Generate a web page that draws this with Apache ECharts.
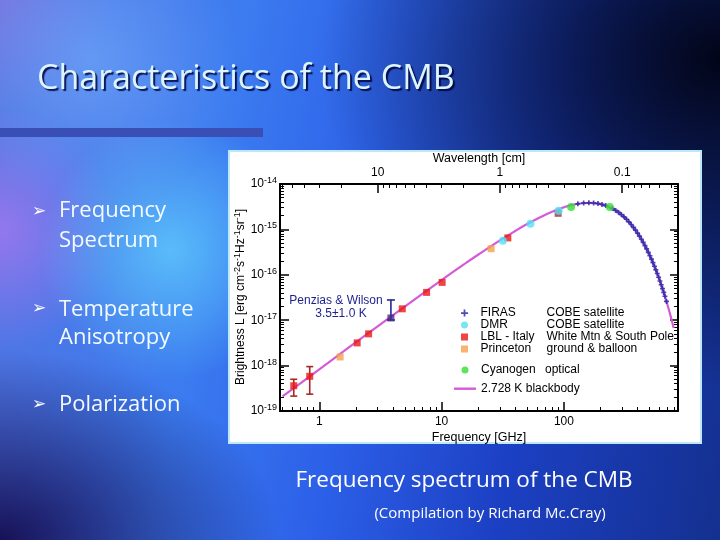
<!DOCTYPE html>
<html><head><meta charset="utf-8">
<script src="https://cdn.jsdelivr.net/npm/echarts@6/dist/echarts.min.js"></script>
<style>
html,body{margin:0;padding:0;}
body{width:720px;height:540px;overflow:hidden;position:relative;
background:
 radial-gradient(circle at 170px 250px, rgba(100,215,255,0.70) 0px, rgba(100,215,255,0) 130px),
 radial-gradient(circle at 90px 60px, rgba(120,180,255,0.55) 0, rgba(120,180,255,0) 150px),
 radial-gradient(circle at 0px 230px, rgba(170,120,240,0.75) 0, rgba(170,120,240,0) 120px),
 radial-gradient(circle at 0px 0px, rgba(140,110,220,0.6) 0, rgba(140,110,220,0) 110px),
 radial-gradient(ellipse 280px 190px at 0px 540px, rgba(20,12,80,0.95) 0, rgba(20,12,80,0) 100%),
 radial-gradient(ellipse 400px 330px at 720px 60px, rgba(2,5,25,1) 0, rgba(2,5,25,0) 100%),
 linear-gradient(100deg, #5574e0 0%, #3c7cf0 30%, #2c60e8 50%, #1c40c4 72%, #14308f 100%);}
#box{position:absolute;left:228px;top:150px;width:470px;height:290px;background:#fff;border:2px solid #bde8fa;}
#chart{position:absolute;left:0;top:0;width:720px;height:540px;}
</style></head><body><div id="box"></div><div id="chart"></div>
<script>
// ---------- data ----------
const curveFreq = [0.5, 0.7, 1, 1.5, 2, 3, 5, 7, 10, 15, 20, 30, 40, 50, 60, 80, 100, 120, 140, 160, 180, 200, 250, 300, 350, 400, 450, 500, 550, 600, 650, 700, 750, 790];
const curveL = [2.09e-19, 4.08e-19, 8.30e-19, 1.86e-18, 3.29e-18, 7.34e-18, 2.00e-17, 3.86e-17, 7.66e-17, 1.65e-16, 2.80e-16, 5.72e-16, 9.24e-16, 1.31e-15, 1.70e-15, 2.45e-15, 3.07e-15, 3.51e-15, 3.77e-15, 3.85e-15, 3.78e-15, 3.60e-15, 2.87e-15, 2.04e-15, 1.34e-15, 8.29e-16, 4.90e-16, 2.79e-16, 1.54e-16, 8.30e-17, 4.38e-17, 2.27e-17, 1.16e-17, 6.7e-18];

const firasFreq = [130, 145, 160, 175, 190, 205, 220, 250, 265, 280, 295, 310, 325, 340, 355, 370, 385, 400, 415, 430, 445, 460, 475, 490, 505, 520, 535, 550, 565, 580, 595, 610, 625, 640, 655, 670, 690];
const firasL = [3.66e-15, 3.80e-15, 3.85e-15, 3.81e-15, 3.71e-15, 3.55e-15, 3.34e-15, 2.87e-15, 2.62e-15, 2.37e-15, 2.12e-15, 1.89e-15, 1.67e-15, 1.47e-15, 1.28e-15, 1.11e-15, 9.64e-16, 8.30e-16, 7.12e-16, 6.08e-16, 5.18e-16, 4.39e-16, 3.71e-16, 3.13e-16, 2.63e-16, 2.21e-16, 1.85e-16, 1.54e-16, 1.28e-16, 1.07e-16, 8.83e-17, 7.31e-17, 6.04e-17, 4.98e-17, 4.10e-17, 3.37e-17, 2.59e-17];

const dmrFreq = [31.7, 53.3, 90.6];
const dmrL = [5.6e-16, 1.34e-15, 2.59e-15];

const lblFreq = [0.618, 0.835, 2.04, 2.53, 4.77, 7.54, 10.1, 34.8];
const lblL = [3.6e-19, 5.8e-19, 3.16e-18, 5.0e-18, 1.78e-17, 4.1e-17, 6.8e-17, 6.5e-16];
const lbl90Freq = [89.7];
const lbl90L = [2.26e-15];
const lblErrFreq = [0.618, 0.835];
const lblErrLow = [2.13e-19, 2.35e-19];
const lblErrHigh = [5.0e-19, 9.5e-19];

const princetonFreq = [1.48, 25.4];
const princetonL = [1.55e-18, 3.76e-16];

const cyanogenFreq = [114.5, 237];
const cyanogenL = [3.1e-15, 3.1e-15];

const pwFreq = [3.85];
const pwL = [1.12e-17];
const pwLow = [1.01e-17];
const pwHigh = [2.79e-17];

const freqMajor = [1, 10, 100];
const freqMinor = [0.5, 0.6, 0.7, 0.8, 0.9, 2, 3, 4, 5, 6, 7, 8, 9, 20, 30, 40, 50, 60, 70, 80, 90, 200, 300, 400, 500, 600, 700, 800];
const wlMajor = [10, 1, 0.1];
const wlLabels = ['10', '1', '0.1'];
const wlMinor = [60, 50, 40, 30, 20, 9, 8, 7, 6, 5, 4, 3, 2, 0.9, 0.8, 0.7, 0.6, 0.5, 0.4, 0.3, 0.2, 0.09, 0.08, 0.07, 0.06, 0.05, 0.04];
const yExponents = [-19, -18, -17, -16, -15, -14];

const legendNames1 = ['FIRAS', 'DMR', 'LBL - Italy', 'Princeton'];
const legendDesc1 = ['COBE satellite', 'COBE satellite', 'White Mtn & South Pole', 'ground & balloon'];
const legendNames2 = ['Cyanogen', '2.728 K blackbody'];
const legendDesc2 = ['optical', ''];

// ---------- helpers ----------
const C_CM_GHZ = 29.9792458;
const X_MIN = 0.477, X_MAX = 857, Y_MIN = 1e-19, Y_MAX = 1e-14;
const zip = (a, b) => a.map((v, i) => [v, b[i]]);
const yMajor = yExponents.map(e => Math.pow(10, e));
const yMinor = [];
for (let e = -19; e < -14; e++) for (let k = 2; k <= 9; k++) yMinor.push(k * Math.pow(10, e));
const FF = 'Liberation Sans, Arial, sans-serif';
const SF = 'Open Sans, sans-serif';
const PLUS = 'path://M2 0H4V2H6V4H4V6H2V4H0V2H2Z';
const SQUARE = 'path://M0 0H1V1H0Z';

const xBase = {type: 'log', min: X_MIN, max: X_MAX, splitLine: {show: false}, axisPointer: {show: false}};
const yBase = {type: 'log', min: Y_MIN, max: Y_MAX, splitLine: {show: false}};
const black = {color: '#000', width: 2};

function errRender(color, w) {
  return function (params, api) {
    const x = api.value(0);
    const a = api.coord([x, api.value(1)]);
    const b = api.coord([x, api.value(2)]);
    const st = {stroke: color, lineWidth: 1.6};
    return {type: 'group', children: [
      {type: 'line', shape: {x1: a[0], y1: a[1], x2: b[0], y2: b[1]}, style: st},
      {type: 'line', shape: {x1: a[0] - w, y1: a[1], x2: a[0] + w, y2: a[1]}, style: st},
      {type: 'line', shape: {x1: b[0] - w, y1: b[1], x2: b[0] + w, y2: b[1]}, style: st}
    ]};
  };
}

function legendFmt(names, descs) {
  return n => {
    const i = names.indexOf(n);
    return descs[i] ? '{a|' + n + '}{b|' + descs[i] + '}' : '{a|' + n + '}';
  };
}

const chart = echarts.init(document.getElementById('chart'), null, {renderer: 'canvas'});
const supRich = {b: {fontSize: 12, lineHeight: 16, fontFamily: FF, color: '#000'}, s: {fontSize: 9, lineHeight: 9, verticalAlign: 'top', fontFamily: FF, color: '#000'}};
const legendIcons1 = {'FIRAS': 'path://M0 1.5H1.5V0H2.5V1.5H4V2.5H2.5V4H1.5V2.5H0Z', 'DMR': 'circle', 'LBL - Italy': SQUARE, 'Princeton': SQUARE};
const slideText = (txt, x, y, size, extra) => ({type: 'text', x: x, y: y, style: Object.assign({text: txt, fontSize: size, fontFamily: SF, fill: '#f4fbff',
  verticalAlign: 'middle', textVerticalAlign: 'middle', textShadowColor: 'rgba(0,0,60,0.5)', textShadowOffsetX: 1, textShadowOffsetY: 1}, extra || {})});

const option = {
  backgroundColor: 'transparent',
  animation: false,
  grid: {left: 280, right: 42, top: 184, bottom: 129, containLabel: false},
  xAxis: [
    Object.assign({}, xBase, {position: 'bottom',
      axisLine: {lineStyle: black},
      axisTick: {inside: true, length: 9, customValues: freqMajor, lineStyle: {color: '#000', width: 1.5}},
      axisLabel: {customValues: freqMajor, formatter: v => String(Math.round(v)), color: '#000', fontSize: 12, fontFamily: FF, margin: 5},
      name: 'Frequency [GHz]', nameLocation: 'middle', nameGap: 20,
      nameTextStyle: {color: '#000', fontSize: 12.5, fontFamily: FF}}),
    Object.assign({}, xBase, {position: 'bottom', axisLine: {show: false},
      axisTick: {inside: true, length: 4, customValues: freqMinor, lineStyle: {color: '#000', width: 1}},
      axisLabel: {show: false}}),
    Object.assign({}, xBase, {position: 'top',
      axisLine: {lineStyle: black},
      axisTick: {inside: true, length: 9, customValues: wlMajor.map(l => C_CM_GHZ / l), lineStyle: {color: '#000', width: 1.5}},
      axisLabel: {customValues: wlMajor.map(l => C_CM_GHZ / l), color: '#000', fontSize: 12, fontFamily: FF, margin: 5,
        formatter: v => { const l = C_CM_GHZ / v; const i = wlMajor.findIndex(w => Math.abs(w - l) / w < 1e-3); return i >= 0 ? wlLabels[i] : ''; }},
      name: 'Wavelength [cm]', nameLocation: 'middle', nameGap: 19,
      nameTextStyle: {color: '#000', fontSize: 12.5, fontFamily: FF}}),
    Object.assign({}, xBase, {position: 'top', axisLine: {show: false},
      axisTick: {inside: true, length: 4, customValues: wlMinor.map(l => C_CM_GHZ / l), lineStyle: {color: '#000', width: 1}},
      axisLabel: {show: false}})
  ],
  yAxis: [
    Object.assign({}, yBase, {position: 'left',
      axisLine: {lineStyle: black},
      axisTick: {inside: true, length: 9, customValues: yMajor, lineStyle: {color: '#000', width: 1.5}},
      axisLabel: {customValues: yMajor, margin: 3, formatter: v => '{b|10}{s|' + Math.round(Math.log10(v)) + '}', rich: supRich}}),
    Object.assign({}, yBase, {position: 'left', axisLine: {show: false},
      axisTick: {inside: true, length: 4, customValues: yMinor, lineStyle: {color: '#000', width: 1}},
      axisLabel: {show: false}}),
    Object.assign({}, yBase, {position: 'right',
      axisLine: {lineStyle: black},
      axisTick: {inside: true, length: 8, customValues: yMajor, lineStyle: {color: '#000', width: 1.5}},
      axisLabel: {show: false}}),
    Object.assign({}, yBase, {position: 'right', axisLine: {show: false},
      axisTick: {inside: true, length: 4, customValues: yMinor, lineStyle: {color: '#000', width: 1}},
      axisLabel: {show: false}})
  ],
  legend: [
    {data: legendNames1.map(n => ({name: n, icon: legendIcons1[n]})), orient: 'vertical', left: 456, top: 302, itemWidth: 22, itemHeight: 7, itemGap: 0,
      selectedMode: false, formatter: legendFmt(legendNames1, legendDesc1),
      textStyle: {color: '#000', fontSize: 12, fontFamily: FF, lineHeight: 11.5,
        rich: {a: {width: 66, fontSize: 12, fontFamily: FF, color: '#000', lineHeight: 11.5}, b: {fontSize: 12, fontFamily: FF, color: '#000', lineHeight: 11.5}}}},
    {data: [{name: legendNames2[0], icon: 'circle'}, {name: legendNames2[1], icon: 'path://M0 0H22V2.4H0Z'}],
      orient: 'vertical', left: 449, top: 359, itemWidth: 22, itemHeight: 7, itemGap: 6.7,
      selectedMode: false, formatter: legendFmt(legendNames2, legendDesc2),
      textStyle: {color: '#000', fontSize: 12, fontFamily: FF, lineHeight: 12,
        rich: {a: {width: 64, fontSize: 12, fontFamily: FF, color: '#000', lineHeight: 12}, b: {fontSize: 12, fontFamily: FF, color: '#000', lineHeight: 12}}}}
  ],
  series: [
    {name: '2.728 K blackbody', type: 'line', data: zip(curveFreq, curveL), smooth: true, showSymbol: false, symbol: 'none',
      color: '#d45ad8', lineStyle: {color: '#d45ad8', width: 2.2}, itemStyle: {color: '#d45ad8'}, z: 2},
    {name: 'LBL err', type: 'custom', renderItem: errRender('#a52828', 3.5), data: lblErrFreq.map((f, i) => [f, lblErrLow[i], lblErrHigh[i]]), encode: {x: 0, y: [1, 2]}, z: 3},
    {name: 'PW err', type: 'custom', renderItem: errRender('#25259a', 4), data: pwFreq.map((f, i) => [f, pwLow[i], pwHigh[i]]), encode: {x: 0, y: [1, 2]}, z: 3},
    {name: 'FIRAS', type: 'scatter', data: zip(firasFreq, firasL), symbol: PLUS, symbolSize: 5, itemStyle: {color: '#1f1fa0'}, z: 4},
    {name: 'DMR', type: 'scatter', data: zip(dmrFreq, dmrL), symbol: 'circle', symbolSize: 8, itemStyle: {color: '#55e0f2'}, z: 5},
    {name: 'LBL - Italy', type: 'scatter', data: zip(lblFreq, lblL), symbol: 'rect', symbolSize: 7, itemStyle: {color: '#e81818'}, z: 4},
    {name: 'LBL 90', type: 'scatter', data: zip(lbl90Freq, lbl90L), symbol: 'rect', symbolSize: 7, itemStyle: {color: '#9e3434'}, z: 4},
    {name: 'Princeton', type: 'scatter', data: zip(princetonFreq, princetonL), symbol: 'rect', symbolSize: 7, itemStyle: {color: '#f5a04c'}, z: 4},
    {name: 'Cyanogen', type: 'scatter', data: zip(cyanogenFreq, cyanogenL), symbol: 'circle', symbolSize: 8, itemStyle: {color: '#35dd35'}, z: 5},
    {name: 'Penzias & Wilson', type: 'scatter', data: zip(pwFreq, pwL), symbol: 'rect', symbolSize: 7, itemStyle: {color: '#4a2a88'}, z: 4}
  ],
  graphic: [
    {type: 'text', x: 37, y: 79, style: {text: 'Characteristics of the CMB', fontSize: 34, fontFamily: SF, fill: '#dcf5ff',
      verticalAlign: 'middle', textVerticalAlign: 'middle', textShadowColor: 'rgba(0,0,60,0.85)', textShadowOffsetX: 2, textShadowOffsetY: 2, textShadowBlur: 1}},
    {type: 'rect', shape: {x: 0, y: 128, width: 263, height: 9}, style: {fill: '#3a4fb6'}},
    {type: 'text', x: 32, y: 212, style: {text: '\u27A2', fontSize: 17, fontFamily: 'DejaVu Sans', fill: '#ffffff', verticalAlign: 'middle', textVerticalAlign: 'middle'}},
    {type: 'text', x: 32, y: 309, style: {text: '\u27A2', fontSize: 17, fontFamily: 'DejaVu Sans', fill: '#ffffff', verticalAlign: 'middle', textVerticalAlign: 'middle'}},
    {type: 'text', x: 32, y: 405, style: {text: '\u27A2', fontSize: 17, fontFamily: 'DejaVu Sans', fill: '#ffffff', verticalAlign: 'middle', textVerticalAlign: 'middle'}},
    slideText('Frequency', 59, 211, 22),
    slideText('Spectrum', 59, 241, 22),
    slideText('Temperature', 59, 310, 22),
    slideText('Anisotropy', 59, 338, 22),
    slideText('Polarization', 59, 405, 22),
    slideText('Frequency spectrum of the CMB', 464, 481, 22.5, {fill: '#ffffff', align: 'center', textAlign: 'center', textShadowColor: 'transparent'}),
    slideText('(Compilation by Richard Mc.Cray)', 490, 514, 15, {fill: '#ffffff', align: 'center', textAlign: 'center', textShadowColor: 'transparent'}),
    {type: 'text', x: 241, y: 297, rotation: Math.PI / 2, style: {text: 'Brightness L [erg cm{s|-2}s{s|-1}Hz{s|-1}sr{s|-1}]', fontSize: 12, fontFamily: FF, fill: '#000',
      align: 'center', textAlign: 'center', verticalAlign: 'middle', textVerticalAlign: 'middle',
      rich: {s: {fontSize: 9, lineHeight: 9, verticalAlign: 'top', fontFamily: FF, fill: '#000'}}, lineHeight: 16}},
    {type: 'text', x: 336, y: 301, z: 10, style: {text: 'Penzias & Wilson', fontSize: 12, fontFamily: FF, fill: '#1e1e8c', align: 'center', textAlign: 'center', verticalAlign: 'middle', textVerticalAlign: 'middle'}},
    {type: 'text', x: 341, y: 314, z: 10, style: {text: '3.5\u00B11.0 K', fontSize: 12, fontFamily: FF, fill: '#1e1e8c', align: 'center', textAlign: 'center', verticalAlign: 'middle', textVerticalAlign: 'middle'}}
  ]
};
chart.setOption(option);
</script></body></html>
